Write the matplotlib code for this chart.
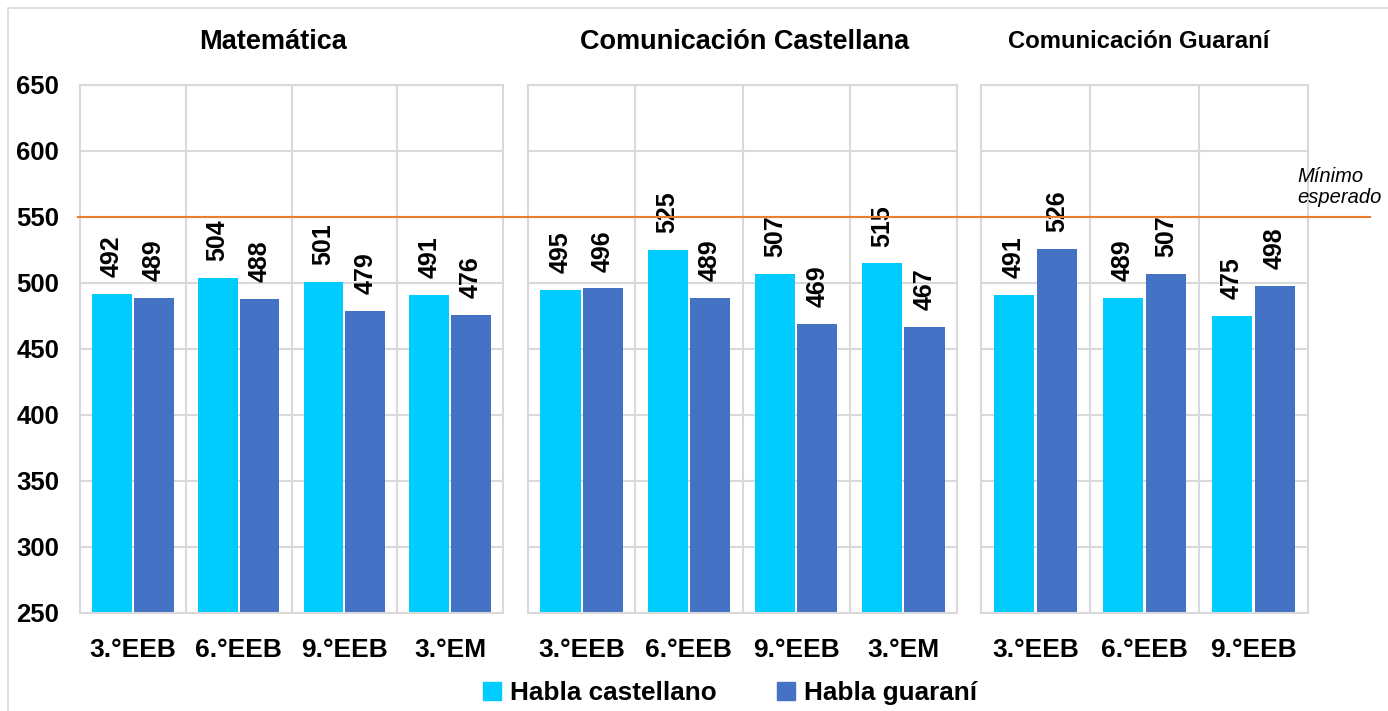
import numpy as np
import matplotlib.pyplot as plt
from matplotlib.lines import Line2D
from matplotlib.patches import Rectangle, Patch
from matplotlib import transforms

plt.rcParams['font.family'] = ['Liberation Sans', 'DejaVu Sans']

# datos
materias = ['Matemática', 'Comunicación Castellana', 'Comunicación Guaraní']
grados = [['3.°EEB', '6.°EEB', '9.°EEB', '3.°EM'],
          ['3.°EEB', '6.°EEB', '9.°EEB', '3.°EM'],
          ['3.°EEB', '6.°EEB', '9.°EEB']]
castellano = [[492, 504, 501, 491],
              [495, 525, 507, 515],
              [491, 489, 475]]
guarani = [[489, 488, 479, 476],
           [496, 489, 469, 467],
           [526, 507, 498]]
minimo = 550
series = ['Habla castellano', 'Habla guaraní']

c_cast = '#00CCFF'
c_guar = '#4472C4'
c_grid = '#D9D9D9'

W, H = 1388, 711
fig = plt.figure(figsize=(W / 100, H / 100), dpi=100)

# posiciones de los paneles en pixeles (izq, der)
paneles = [(80, 503), (528, 957), (981, 1308)]
top, bot = 85, 613
titulo_x = [273, 745, 1139]
titulo_fs = [19.5, 19.5, 17.2]

axes = []
for i, (x0, x1) in enumerate(paneles):
    ax = fig.add_axes([x0 / W, 1 - bot / H, (x1 - x0) / W, (bot - top) / H])
    n = len(grados[i])
    x = np.arange(n)
    w = 0.375
    b1 = ax.bar(x - 0.1975, castellano[i], w, color=c_cast, zorder=2)
    b2 = ax.bar(x + 0.1975, guarani[i], w, color=c_guar, zorder=2)
    for bars, vals in ((b1, castellano[i]), (b2, guarani[i])):
        for r, v in zip(bars, vals):
            ax.annotate(str(v), (r.get_x() + r.get_width() / 2, v),
                        xytext=(0, 12), textcoords='offset points',
                        rotation=90, ha='center', va='bottom',
                        fontsize=18, fontweight='bold')
    ax.set_xlim(-0.5, n - 0.5)
    ax.set_ylim(250, 650)
    ax.set_yticks(np.arange(250, 651, 50))
    ax.set_xticks(x)
    ax.set_xticklabels(grados[i], fontsize=19, fontweight='bold')
    ax.tick_params(axis='x', length=0, pad=18)
    ax.tick_params(axis='y', length=0, pad=15)
    if i == 0:
        for t in ax.get_yticklabels():
            t.set_fontsize(18.5)
            t.set_fontweight('bold')
    else:
        ax.set_yticklabels([])
    ax.grid(axis='y', color=c_grid, lw=1.5, zorder=0)
    for xv in np.arange(0.5, n - 0.5):
        ax.axvline(xv, color=c_grid, lw=1.5, zorder=0)
    for s in ax.spines.values():
        s.set_color(c_grid)
        s.set_linewidth(1.5)
    fig.text(titulo_x[i] / W, 1 - 42 / H, materias[i], ha='center', va='center',
             fontsize=titulo_fs[i], fontweight='bold')
    axes.append(ax)

# linea del minimo esperado
tr = transforms.blended_transform_factory(fig.transFigure, axes[0].transData)
fig.add_artist(Line2D([78 / W, 1370 / W], [minimo, minimo], transform=tr,
                      color='#ED7D31', lw=1.5, zorder=5))
fig.text(1297 / W, 1 - 187 / H, 'Mínimo\nesperado', ha='left', va='center',
         fontsize=14.5, style='italic', linespacing=1.1)

# marco exterior
fig.add_artist(Rectangle((8 / W, -0.1), 1.2, 1 - 8 / H + 0.1,
                         transform=fig.transFigure, fill=False,
                         edgecolor=c_grid, lw=1.2))

handles = [Patch(color=c_cast), Patch(color=c_guar)]
fig.legend(handles, series, loc='center', bbox_to_anchor=(730 / W, 1 - 693 / H),
           ncol=2, frameon=False, prop={'size': 18.8, 'weight': 'bold'},
           handlelength=0.7, handleheight=0.7, handletextpad=0.35,
           columnspacing=2.3)

plt.savefig('out.png', dpi=100)
